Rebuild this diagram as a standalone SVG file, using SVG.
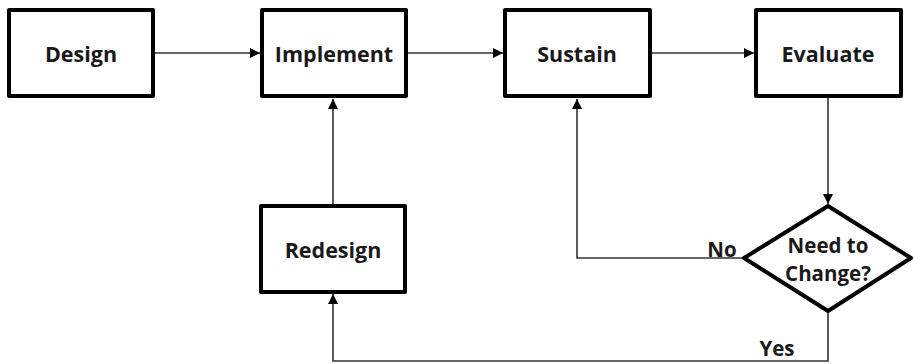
<svg xmlns="http://www.w3.org/2000/svg" width="914" height="364" viewBox="0 0 914 364">
  <style>
    .box { fill: #fff; stroke: #000; stroke-width: 4; stroke-linejoin: round; }
    .lbl { font-family: "Open Sans", "Liberation Sans", sans-serif; font-weight: 700; font-size: 21.5px; fill: #1a1a1a; text-anchor: middle; dominant-baseline: central; }
    .small { font-size: 20.5px; }
    .edge { fill: none; stroke: #333; stroke-width: 1.6; }
  </style>
  <defs>
    <marker id="arrow" viewBox="0 0 10 10" refX="10" refY="5" markerWidth="10" markerHeight="10" markerUnits="userSpaceOnUse" orient="auto">
      <path d="M0,0 L10,5 L0,10 Z" fill="#000"/>
    </marker>
  </defs>

  <g id="connectors">
    <line class="edge" x1="153" y1="53" x2="260" y2="53" marker-end="url(#arrow)"/>
    <line class="edge" x1="406" y1="53" x2="503" y2="53" marker-end="url(#arrow)"/>
    <line class="edge" x1="650" y1="53" x2="754" y2="53" marker-end="url(#arrow)"/>
    <line class="edge" x1="828" y1="97" x2="828" y2="204" marker-end="url(#arrow)"/>
    <polyline class="edge" points="743,258 577,258 577,99" marker-end="url(#arrow)"/>
    <polyline class="edge" points="828,312 828,361 333,361 333,294" marker-end="url(#arrow)"/>
    <line class="edge" x1="333" y1="205" x2="333" y2="99" marker-end="url(#arrow)"/>
    <text class="lbl small" x="722" y="249">No</text>
    <text class="lbl small" x="777" y="348">Yes</text>
  </g>

  <g id="design">
    <rect class="box" x="9" y="10" width="144" height="86"/>
    <text class="lbl" x="81" y="53">Design</text>
  </g>
  <g id="implement">
    <rect class="box" x="262" y="10" width="144" height="86"/>
    <text class="lbl" x="334" y="53">Implement</text>
  </g>
  <g id="sustain">
    <rect class="box" x="505" y="10" width="145" height="86"/>
    <text class="lbl" x="577" y="53">Sustain</text>
  </g>
  <g id="evaluate">
    <rect class="box" x="756" y="10" width="145" height="86"/>
    <text class="lbl" x="828" y="53">Evaluate</text>
  </g>
  <g id="redesign">
    <rect class="box" x="261" y="206" width="144" height="86"/>
    <text class="lbl" x="333" y="249">Redesign</text>
  </g>
  <g id="need-to-change">
    <polygon class="box" points="828,206 911,258 828,311 744,258"/>
    <text class="lbl small" x="828" y="245">Need to</text>
    <text class="lbl small" x="828" y="273">Change?</text>
  </g>
</svg>
